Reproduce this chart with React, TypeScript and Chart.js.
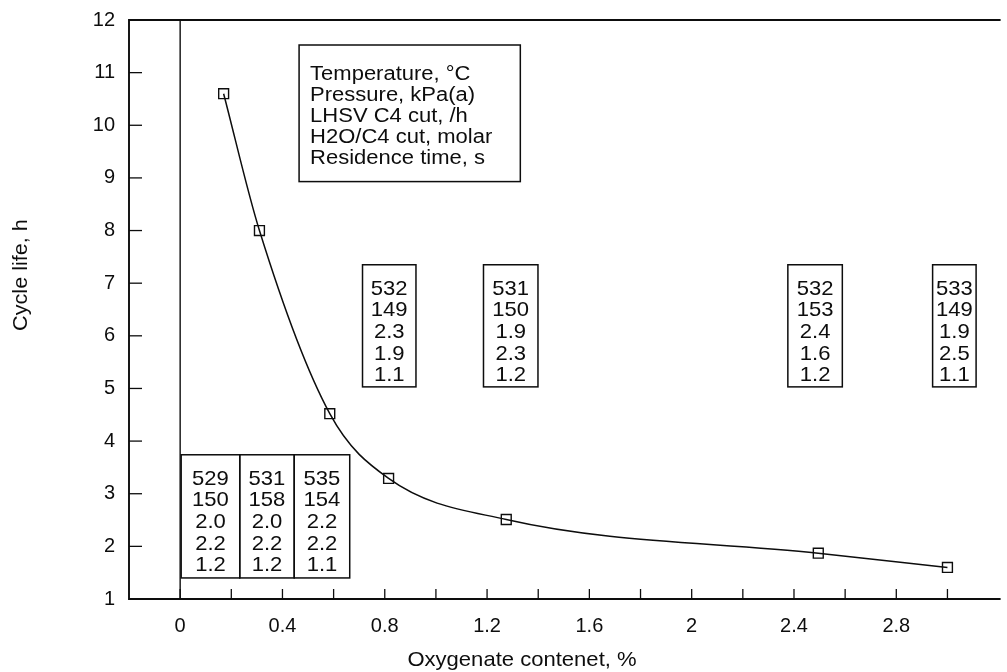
import React, { useEffect, useRef } from "react";
import { Chart, registerables } from "chart.js";

Chart.register(...registerables);

// ---- data ----
const oxygenateContent = [0.17, 0.31, 0.585, 0.815, 1.275, 2.495, 3.0];
const cycleLifeHours = [10.6, 8.0, 4.52, 3.29, 2.51, 1.87, 1.6];

const xTickLabels = ["0", "0.4", "0.8", "1.2", "1.6", "2", "2.4", "2.8"];
const yTickLabels = ["1", "2", "3", "4", "5", "6", "7", "8", "9", "10", "11", "12"];

const conditionLabels = [
  "Temperature, °C",
  "Pressure, kPa(a)",
  "LHSV C4 cut, /h",
  "H2O/C4 cut, molar",
  "Residence time, s",
];
const runA = ["529", "150", "2.0", "2.2", "1.2"];
const runB = ["531", "158", "2.0", "2.2", "1.2"];
const runC = ["535", "154", "2.2", "2.2", "1.1"];
const runD = ["532", "149", "2.3", "1.9", "1.1"];
const runE = ["531", "150", "1.9", "2.3", "1.2"];
const runF = ["532", "153", "2.4", "1.6", "1.2"];
const runG = ["533", "149", "1.9", "2.5", "1.1"];

const xTitle = "Oxygenate contenet, %";
const yTitle = "Cycle life, h";

const INK = "#0d0d0d";
const FONT = '"Liberation Sans", Arial, sans-serif';

function stretchedText(ctx: CanvasRenderingContext2D, text: string, x: number, y: number, align: "left" | "center", sx: number) {
  ctx.save();
  ctx.translate(x, y);
  ctx.scale(sx, 1);
  ctx.textAlign = align;
  ctx.textBaseline = "middle";
  ctx.fillText(text, 0, 0);
  ctx.restore();
}

const decorPlugin = {
  id: "decor",
  beforeDatasetsDraw(chart: any) {
    const { ctx, chartArea: a, scales } = chart;
    const x = scales.x;
    const y = scales.y;
    ctx.save();
    ctx.strokeStyle = INK;
    ctx.fillStyle = INK;
    ctx.lineCap = "butt";

    // frame (left, top, bottom)
    ctx.lineWidth = 1.9;
    ctx.beginPath();
    ctx.moveTo(a.right + 2, a.top);
    ctx.lineTo(a.left, a.top);
    ctx.lineTo(a.left, a.bottom);
    ctx.lineTo(a.right + 2, a.bottom);
    ctx.stroke();

    // vertical line at x = 0
    const x0 = x.getPixelForValue(0);
    ctx.lineWidth = 1.4;
    ctx.beginPath();
    ctx.moveTo(x0, a.top);
    ctx.lineTo(x0, a.bottom);
    ctx.stroke();

    // inward ticks
    ctx.lineWidth = 1.3;
    x.ticks.forEach((t: any) => {
      const px = x.getPixelForValue(t.value);
      if (px > a.left + 2 && px < a.right - 2) {
        ctx.beginPath();
        ctx.moveTo(px, a.bottom);
        ctx.lineTo(px, a.bottom - 10);
        ctx.stroke();
      }
    });
    y.ticks.forEach((t: any) => {
      const py = y.getPixelForValue(t.value);
      if (py > a.top + 2 && py < a.bottom - 2) {
        ctx.beginPath();
        ctx.moveTo(a.left, py);
        ctx.lineTo(a.left + 13, py);
        ctx.stroke();
      }
    });

    // boxes
    const box = (x1: number, x2: number, yT: number, yB: number) => {
      const l = x.getPixelForValue(x1);
      const r = x.getPixelForValue(x2);
      const t = y.getPixelForValue(yT);
      const b = y.getPixelForValue(yB);
      ctx.lineWidth = 1.5;
      ctx.strokeRect(l, t, r - l, b - t);
      return { l, r, t, b };
    };

    // legend of conditions
    const lg = box(0.465, 1.33, 11.525, 8.93);
    ctx.font = `20px ${FONT}`;
    conditionLabels.forEach((s, i) => {
      stretchedText(ctx, s, lg.l + 11, lg.t + 29 + i * 21, "left", 1.1);
    });

    const numberBox = (vals: string[], x1: number, x2: number, yT: number, yB: number) => {
      const g = box(x1, x2, yT, yB);
      ctx.font = `21px ${FONT}`;
      const cx = (g.l + g.r) / 2;
      vals.forEach((s, i) => {
        stretchedText(ctx, s, cx, g.t + 24 + i * 21.7, "center", 1.05);
      });
    };

    numberBox(runD, 0.713, 0.922, 7.35, 5.03);
    numberBox(runE, 1.186, 1.399, 7.35, 5.03);
    numberBox(runF, 2.376, 2.589, 7.35, 5.03);
    numberBox(runG, 2.942, 3.112, 7.35, 5.03);

    // bottom-left table
    numberBox(runA, 0.004, 0.233, 3.74, 1.40);
    numberBox(runB, 0.233, 0.446, 3.74, 1.40);
    numberBox(runC, 0.446, 0.663, 3.74, 1.40);

    // axis titles
    ctx.font = `21px ${FONT}`;
    stretchedText(ctx, xTitle, 522, 660, "center", 1.05);
    ctx.save();
    ctx.translate(21, 275);
    ctx.rotate(-Math.PI / 2);
    ctx.scale(1.03, 1);
    ctx.textAlign = "center";
    ctx.textBaseline = "middle";
    ctx.fillText(yTitle, 0, 0);
    ctx.restore();

    ctx.restore();
  },
};

export default function App() {
  const ref = useRef<HTMLCanvasElement | null>(null);

  useEffect(() => {
    if (!ref.current) return;
    const points = oxygenateContent.map((v, i) => ({ x: v, y: cycleLifeHours[i] }));
    const chart = new Chart(ref.current, {
      type: "scatter",
      data: {
        datasets: [
          {
            data: points,
            showLine: true,
            cubicInterpolationMode: "monotone",
            borderColor: INK,
            borderWidth: 1.5,
            pointStyle: "rect",
            pointRadius: 7,
            pointBorderWidth: 1.4,
            pointBorderColor: INK,
            pointBackgroundColor: "rgba(0,0,0,0)",
          } as any,
        ],
      },
      options: {
        animation: false,
        responsive: false,
        devicePixelRatio: 1,
        layout: { padding: { top: 20, right: 0, left: 0, bottom: 0 } },
        plugins: { legend: { display: false }, tooltip: { enabled: false } },
        scales: {
          x: {
            type: "linear",
            min: -0.2,
            max: 3.2,
            afterFit: (s: any) => {
              s.height = 73;
            },
            afterBuildTicks: (s: any) => {
              const ticks = [];
              for (let k = -1; k <= 16; k++) ticks.push({ value: Math.round(k * 0.2 * 10) / 10 });
              s.ticks = ticks;
            },
            grid: {
              display: true,
              drawOnChartArea: false,
              drawTicks: true,
              tickLength: 15,
              color: "rgba(0,0,0,0)",
            },
            border: { display: false },
            ticks: {
              autoSkip: false,
              maxRotation: 0,
              padding: 0,
              color: INK,
              font: { family: FONT, size: 20 },
              callback: (v: any) => {
                const lbl = String(Math.round(Number(v) * 10) / 10);
                return xTickLabels.includes(lbl) ? lbl : "";
              },
            },
          },
          y: {
            type: "linear",
            min: 1,
            max: 12,
            afterFit: (s: any) => {
              s.width = 129;
            },
            grid: {
              display: true,
              drawOnChartArea: false,
              drawTicks: true,
              tickLength: 14,
              color: "rgba(0,0,0,0)",
            },
            border: { display: false },
            ticks: {
              stepSize: 1,
              padding: 0,
              color: INK,
              font: { family: FONT, size: 20 },
              callback: (v: any) => {
                const lbl = String(v);
                return yTickLabels.includes(lbl) ? lbl : "";
              },
            },
          },
        },
      },
      plugins: [decorPlugin],
    });
    return () => chart.destroy();
  }, []);

  return (
    <div style={{ position: "fixed", left: 0, top: 0, width: 1007, height: 672, background: "#fff" }}>
      <canvas ref={ref} width={1007} height={672} style={{ display: "block" }} />
    </div>
  );
}
